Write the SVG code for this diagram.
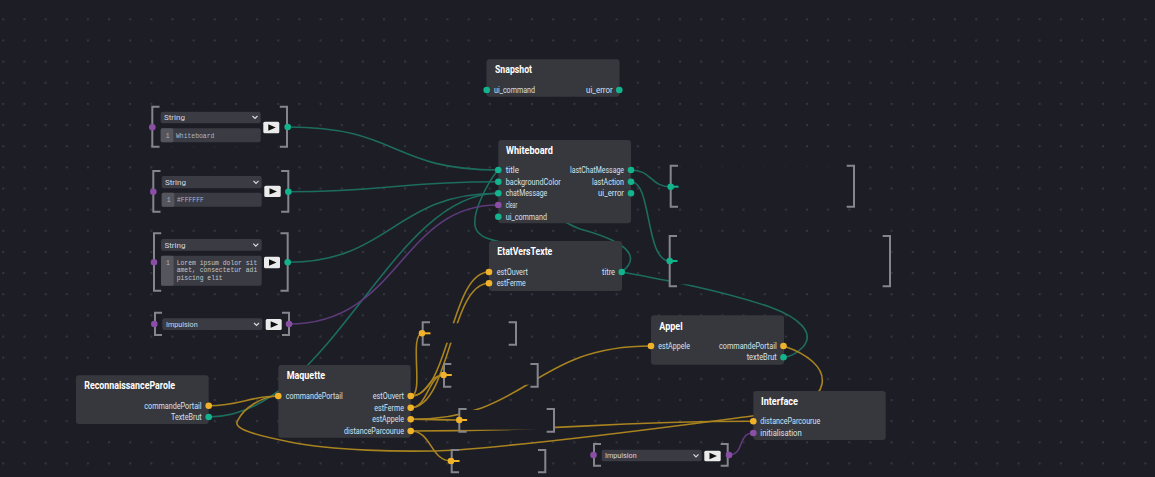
<svg xmlns="http://www.w3.org/2000/svg" width="1155" height="477" viewBox="0 0 1155 477">
<defs>
<pattern id="grid" x="2.3" y="18.3" width="21.15" height="21.15" patternUnits="userSpaceOnUse"><rect width="2" height="2" fill="#363641"/></pattern>
<style>
.node{fill:#37383e}
.t{font-family:Roboto,"Noto Sans",sans-serif;font-weight:700;font-size:10.5px;fill:#ffffff}
.l{font-family:Roboto,"Noto Sans",sans-serif;font-size:8.5px;fill:#d3e2f0}
.dd{font-family:Roboto,"Noto Sans",sans-serif;font-size:8px;fill:#d2d9e2;font-weight:400}
.mono{font-family:"Liberation Mono","DejaVu Sans Mono",monospace;font-size:6.4px;fill:#a9b7cc}
.lor{font-family:"Liberation Mono","DejaVu Sans Mono",monospace;font-size:6.4px;fill:#c2c6cc}
.ln{font-family:"Liberation Mono","DejaVu Sans Mono",monospace;font-size:6.4px;fill:#b4b4b8}
.pt{fill:#13b38d}.py{fill:#f1b22b}.pp{fill:#8a4ea5}
.wt{fill:none;stroke:#1d6d5f;stroke-width:1.6}
.wy{fill:none;stroke:#a8831f;stroke-width:1.6}
.wp{fill:none;stroke:#5d3b7a;stroke-width:1.6}
.br{fill:none;stroke:#85858d;stroke-width:2}
.wbg{fill:#1d1d26}
.box{fill:#3a3b43}
.gut{fill:#55565d}
.play{fill:#ebebeb}
.chev{fill:none;stroke:#dcdcdc;stroke-width:1.2}
.stt{stroke:#13b38d;stroke-width:2}
.sty{stroke:#f1b22b;stroke-width:2}
</style>
</defs>
<rect width="1155" height="477" fill="#1d1d26"/>
<rect width="1155" height="477" fill="url(#grid)"/>

<g id="connectors">
<path class="wt" d="M287.7,127 C400,127 390,170 498,170"/>
<path class="wt" d="M288.3,191.7 C390,191.7 395,181.7 498,181.7"/>
<path class="wt" d="M287.7,262.3 C390,262.3 395,193.3 498,193.3"/>
<path class="wt" d="M208.7,417 C330,417 390,193.3 498,193.3"/>
<path class="wt" d="M631,170 C652,170 650,186.7 670.7,186.7"/>
<path class="wt" d="M631,181.7 C652,181.7 645,261 669.7,261"/>
<path class="wt" d="M498,170 C520,185 550,218 580,229 C610,237 648,252 621.7,272"/>
<path class="wt" d="M498,170 C488,182 470,215 476,229 C480,238 492,240 505,243 L560,262"/>
<path class="wt" d="M621.7,272 C660,279 720,290 770,307 C800,318 815,333 803,347 C797,353 790,357 783.5,357.3"/>
<path class="wp" d="M289,324 C400,324 400,205 498,205"/>
<path class="wp" d="M729,455 C745,455 737,433 753.3,433"/>
<path class="wy" d="M208.7,405.7 C240,405.7 250,396 278.3,396"/>
<path class="wy" d="M783.5,346 C808,354 825,368 822,384 C819,402 790,411 752,416 C690,424 560,442 457,450 C400,453 330,450 290,442 C250,434 232,428 238,420 C244,408 262,396 278.3,396"/>
<path class="wy" d="M410.7,396 C425,396 408,333.3 422.7,333.3"/>
<path class="wy" d="M410.7,396 C450,396 450,272 489,272"/>
<path class="wy" d="M410.7,407.7 C450,407.7 450,283.3 489,283.3"/>
<path class="wy" d="M410.7,396 C428,396 428,375 444,375"/>
<path class="wy" d="M410.7,407.7 C428,407.7 428,375 444,375"/>
<path class="wy" d="M410.7,419.3 C435,419.3 435,420 459.3,420"/>
<path class="wy" d="M410.7,419.3 C530,419.3 531,346 651,346"/>
<path class="wy" d="M410.7,431 C432,431 430,461 451.7,461"/>
<path class="wy" d="M410.7,431 C580,431 585,421.3 753.3,421.3"/>
</g>

<g id="string-whiteboard">
<rect class="wbg" x="152.3" y="106.7" width="134.7" height="40"/>
<path class="br" d="M159.5,106.7 H152.3 V146.7 H159.5"/>
<path class="br" d="M279.8,106.7 H287 V146.7 H279.8"/>
<rect class="box" x="160.7" y="111.7" width="100" height="11.6" rx="2"/>
<text class="dd" x="164" y="120.3">String</text>
<polyline class="chev" points="252.5,116 255,118.5 257.5,116"/>
<rect class="box" x="160.7" y="128.3" width="100" height="14" rx="2"/>
<rect class="gut" x="160.7" y="128.3" width="12.6" height="14" rx="1.5"/>
<text class="ln" x="165.8" y="137.7">1</text>
<text class="mono" x="176" y="137.7">Whiteboard</text>
<rect class="play" x="263.3" y="121.7" width="16" height="11.6" rx="1.5"/>
<polygon points="268.3,124.3 275.8,127.5 268.3,130.7" fill="#111"/>
<circle class="pp" cx="152.3" cy="127.3" r="3.3"/>
<circle class="pt" cx="287.7" cy="127" r="3.3"/>
</g>

<g id="string-color">
<rect class="wbg" x="153.3" y="171" width="135" height="40.7"/>
<path class="br" d="M160.5,171 H153.3 V211.7 H160.5"/>
<path class="br" d="M281.1,171 H288.3 V211.7 H281.1"/>
<rect class="box" x="161.7" y="176" width="100" height="12.3" rx="2"/>
<text class="dd" x="165" y="185">String</text>
<polyline class="chev" points="253.5,180.8 256,183.3 258.5,180.8"/>
<rect class="box" x="161.7" y="192.7" width="100" height="14" rx="2"/>
<rect class="gut" x="161.7" y="192.7" width="12.6" height="14" rx="1.5"/>
<text class="ln" x="166.8" y="202">1</text>
<text class="mono" x="177" y="202">#FFFFFF</text>
<rect class="play" x="264.3" y="185.7" width="16.4" height="11.3" rx="1.5"/>
<polygon points="269.5,188.2 277,191.4 269.5,194.6" fill="#111"/>
<circle class="pp" cx="153.3" cy="191.7" r="3.3"/>
<circle class="pt" cx="288.3" cy="191.7" r="3.3"/>
</g>

<g id="string-lorem">
<rect class="wbg" x="154" y="233.3" width="133.7" height="57.4"/>
<path class="br" d="M161.2,233.3 H154 V290.7 H161.2"/>
<path class="br" d="M280.5,233.3 H287.7 V290.7 H280.5"/>
<rect class="box" x="161" y="239" width="100.7" height="11.7" rx="2"/>
<text class="dd" x="164.5" y="247.8">String</text>
<polyline class="chev" points="253.3,243.6 255.8,246.1 258.3,243.6"/>
<rect class="box" x="161" y="255.7" width="100.7" height="30" rx="2"/>
<rect class="gut" x="161" y="255.7" width="12.6" height="30" rx="1.5"/>
<text class="ln" x="166.1" y="264.5">1</text>
<text class="lor" x="176.7" y="264.5">Lorem ipsum dolor sit</text>
<text class="lor" x="176.7" y="272.4">amet, consectetur adi</text>
<text class="lor" x="176.7" y="280.3">piscing elit</text>
<rect class="play" x="264" y="256.7" width="16" height="11.6" rx="1.5"/>
<polygon points="269,259.3 276.5,262.5 269,265.7" fill="#111"/>
<circle class="pp" cx="154" cy="262.3" r="3.3"/>
<circle class="pt" cx="287.7" cy="262.3" r="3.3"/>
</g>

<g id="impulsion-1">
<rect class="wbg" x="155" y="312.7" width="134" height="22.3"/>
<path class="br" d="M162,312.7 H155 V335 H162"/>
<path class="br" d="M282,312.7 H289 V335 H282"/>
<rect class="box" x="162.3" y="318.3" width="100" height="11.7" rx="2"/>
<text class="dd" x="166" y="327.1" textLength="31.7" lengthAdjust="spacingAndGlyphs">Impulsion</text>
<polyline class="chev" points="254,323 256.5,325.5 259,323"/>
<rect class="play" x="265.7" y="319" width="16" height="11" rx="1.5"/>
<polygon points="270.7,321.3 278.2,324.5 270.7,327.7" fill="#111"/>
<circle class="pp" cx="154.3" cy="324" r="3.3"/>
<circle class="pp" cx="289" cy="324" r="3.3"/>
</g>

<g id="impulsion-2">
<rect class="wbg" x="594" y="444" width="133.7" height="21.7"/>
<path class="br" d="M601,444 H594 V465.7 H601"/>
<path class="br" d="M720.7,444 H727.7 V465.7 H720.7"/>
<rect class="box" x="601.7" y="449.7" width="100" height="11.6" rx="2"/>
<text class="dd" x="605" y="458.4" textLength="31.7" lengthAdjust="spacingAndGlyphs">Impulsion</text>
<polyline class="chev" points="693.5,454.3 696,456.8 698.5,454.3"/>
<rect class="play" x="704.3" y="450.7" width="16.4" height="10.6" rx="1.5"/>
<polygon points="709.5,452.8 717,456 709.5,459.2" fill="#111"/>
<circle class="pp" cx="593.5" cy="455" r="3.3"/>
<circle class="pp" cx="729" cy="455" r="3.3"/>
</g>

<g id="out-lastChatMessage">
<rect class="wbg" x="670.7" y="166.7" width="183.3" height="38"/>
<path class="br" d="M678,165.7 H670.7 V206.7 H678"/>
<path class="br" d="M846.7,165.7 H854 V206.7 H846.7"/>
<line class="stt" x1="670.7" y1="186.7" x2="678.5" y2="186.7"/>
<circle class="pt" cx="670.7" cy="186.7" r="3.3"/>
</g>

<g id="out-lastAction">
<rect class="wbg" x="669.7" y="237" width="220.3" height="47.3"/>
<path class="br" d="M677,236 H669.7 V286.3 H677"/>
<path class="br" d="M882.7,236 H890 V286.3 H882.7"/>
<line class="stt" x1="669.7" y1="261" x2="677.5" y2="261"/>
<circle class="pt" cx="669.7" cy="261" r="3.3"/>
</g>

<g id="out-estOuvert">
<rect class="wbg" x="422.7" y="323.3" width="93.3" height="19.4"/>
<path class="br" d="M430,322.3 H422.7 V344.7 H430"/>
<path class="br" d="M508.7,322.3 H516 V344.7 H508.7"/>
<line class="sty" x1="422.7" y1="333.3" x2="430.5" y2="333.3"/>
<circle class="py" cx="422" cy="333.3" r="3.3"/>
</g>

<g id="out-estFerme">
<rect class="wbg" x="444" y="365" width="93.7" height="19.7"/>
<path class="br" d="M451.3,364 H444 V386.7 H451.3"/>
<path class="br" d="M530.4,364 H537.7 V386.7 H530.4"/>
<line class="sty" x1="444" y1="375" x2="451.8" y2="375"/>
<circle class="py" cx="443.6" cy="375" r="3.3"/>
</g>

<g id="out-estAppele">
<rect class="wbg" x="459.3" y="410" width="94.7" height="19.7"/>
<path class="br" d="M466.6,409 H459.3 V431.7 H466.6"/>
<path class="br" d="M546.7,409 H554 V431.7 H546.7"/>
<line class="sty" x1="459.3" y1="420" x2="467.1" y2="420"/>
<circle class="py" cx="459.3" cy="420" r="3.3"/>
</g>

<g id="out-distance">
<rect class="wbg" x="451.7" y="451" width="93.6" height="19.3"/>
<path class="br" d="M459,450 H451.7 V472.3 H459"/>
<path class="br" d="M538,450 H545.3 V472.3 H538"/>
<line class="sty" x1="451.7" y1="461" x2="459.5" y2="461"/>
<circle class="py" cx="451" cy="461" r="3.3"/>
</g>

<g id="node-snapshot">
<rect class="node" x="486.5" y="59.3" width="133" height="37.4" rx="3"/>
<text class="t" x="495" y="73" textLength="37" lengthAdjust="spacingAndGlyphs">Snapshot</text>
<text class="l" x="494" y="93" textLength="41" lengthAdjust="spacingAndGlyphs">ui_command</text>
<text class="l" x="586" y="93" textLength="26.7" lengthAdjust="spacingAndGlyphs">ui_error</text>
<circle class="pt" cx="486.7" cy="90" r="3.3"/>
<circle class="pt" cx="619.3" cy="90" r="3.3"/>
</g>

<g id="node-whiteboard">
<rect class="node" x="498.3" y="140" width="132.7" height="83.3" rx="3"/>
<text class="t" x="506" y="153.8" textLength="47" lengthAdjust="spacingAndGlyphs">Whiteboard</text>
<text class="l" x="505.7" y="173" textLength="13.3" lengthAdjust="spacingAndGlyphs">title</text>
<text class="l" x="505.7" y="184.7" textLength="55" lengthAdjust="spacingAndGlyphs">backgroundColor</text>
<text class="l" x="505.7" y="196.3" textLength="41.6" lengthAdjust="spacingAndGlyphs">chatMessage</text>
<text class="l" x="505.7" y="208" textLength="11.6" lengthAdjust="spacingAndGlyphs">clear</text>
<text class="l" x="505.7" y="219.7" textLength="41.3" lengthAdjust="spacingAndGlyphs">ui_command</text>
<text class="l" x="570" y="173" textLength="54" lengthAdjust="spacingAndGlyphs">lastChatMessage</text>
<text class="l" x="592" y="184.7" textLength="32" lengthAdjust="spacingAndGlyphs">lastAction</text>
<text class="l" x="598" y="196.3" textLength="26" lengthAdjust="spacingAndGlyphs">ui_error</text>
<circle class="pt" cx="498.3" cy="170" r="3.3"/>
<circle class="pt" cx="498.3" cy="181.7" r="3.3"/>
<circle class="pt" cx="498.3" cy="193.3" r="3.3"/>
<circle class="pp" cx="498.3" cy="205" r="3.3"/>
<circle class="pt" cx="498.3" cy="216.7" r="3.3"/>
<circle class="pt" cx="631" cy="170" r="3.3"/>
<circle class="pt" cx="631" cy="181.7" r="3.3"/>
<circle class="pt" cx="631" cy="193.3" r="3.3"/>
</g>

<g id="node-etatverstexte">
<rect class="node" x="489" y="241" width="133" height="50" rx="3"/>
<text class="t" x="497.3" y="254.8" textLength="55" lengthAdjust="spacingAndGlyphs">EtatVersTexte</text>
<text class="l" x="496.7" y="275" textLength="31.3" lengthAdjust="spacingAndGlyphs">estOuvert</text>
<text class="l" x="496.7" y="286.3" textLength="29" lengthAdjust="spacingAndGlyphs">estFerme</text>
<text class="l" x="602" y="275" textLength="13" lengthAdjust="spacingAndGlyphs">titre</text>
<circle class="py" cx="489" cy="272" r="3.3"/>
<circle class="py" cx="489" cy="283.3" r="3.3"/>
<circle class="pt" cx="621.7" cy="272" r="3.3"/>
</g>

<g id="node-appel">
<rect class="node" x="651" y="315.3" width="133" height="49.4" rx="3"/>
<text class="t" x="659.3" y="329.5" textLength="23.3" lengthAdjust="spacingAndGlyphs">Appel</text>
<text class="l" x="658.3" y="349" textLength="31.7" lengthAdjust="spacingAndGlyphs">estAppele</text>
<text class="l" x="719" y="349" textLength="57.7" lengthAdjust="spacingAndGlyphs">commandePortail</text>
<text class="l" x="746.7" y="360.3" textLength="30" lengthAdjust="spacingAndGlyphs">texteBrut</text>
<circle class="py" cx="651" cy="346" r="3.3"/>
<circle class="py" cx="783.5" cy="346" r="3.3"/>
<circle class="pt" cx="783.5" cy="357.3" r="3.3"/>
</g>

<g id="node-interface">
<rect class="node" x="753.3" y="391" width="132.4" height="49" rx="3"/>
<text class="t" x="761" y="405" textLength="37" lengthAdjust="spacingAndGlyphs">Interface</text>
<text class="l" x="760.3" y="424.3" textLength="60" lengthAdjust="spacingAndGlyphs">distanceParcourue</text>
<text class="l" x="760.3" y="436" textLength="41.4" lengthAdjust="spacingAndGlyphs">initialisation</text>
<circle class="py" cx="753.3" cy="421.3" r="3.3"/>
<circle class="pp" cx="753.3" cy="433" r="3.3"/>
</g>

<g id="node-maquette">
<rect class="node" x="278.3" y="365" width="132.4" height="72.7" rx="3"/>
<text class="t" x="286.7" y="379" textLength="38.3" lengthAdjust="spacingAndGlyphs">Maquette</text>
<text class="l" x="285.7" y="399" textLength="57" lengthAdjust="spacingAndGlyphs">commandePortail</text>
<text class="l" x="372.7" y="399" textLength="31.3" lengthAdjust="spacingAndGlyphs">estOuvert</text>
<text class="l" x="374.3" y="410.7" textLength="29.7" lengthAdjust="spacingAndGlyphs">estFerme</text>
<text class="l" x="372.3" y="422.3" textLength="31.7" lengthAdjust="spacingAndGlyphs">estAppele</text>
<text class="l" x="344" y="434" textLength="60" lengthAdjust="spacingAndGlyphs">distanceParcourue</text>
<circle class="py" cx="278.3" cy="396" r="3.3"/>
<circle class="py" cx="410.7" cy="396" r="3.3"/>
<circle class="py" cx="410.7" cy="407.7" r="3.3"/>
<circle class="py" cx="410.7" cy="419.3" r="3.3"/>
<circle class="py" cx="410.7" cy="431" r="3.3"/>
</g>

<g id="node-reconnaissance">
<rect class="node" x="76" y="375.3" width="132.7" height="48.7" rx="3"/>
<text class="t" x="84.3" y="389" textLength="90.7" lengthAdjust="spacingAndGlyphs">ReconnaissanceParole</text>
<text class="l" x="144.3" y="408.7" textLength="57.3" lengthAdjust="spacingAndGlyphs">commandePortail</text>
<text class="l" x="171" y="420" textLength="30.7" lengthAdjust="spacingAndGlyphs">TexteBrut</text>
<circle class="py" cx="208.7" cy="405.7" r="3.3"/>
<circle class="pt" cx="208.7" cy="417" r="3.3"/>
</g>
</svg>
